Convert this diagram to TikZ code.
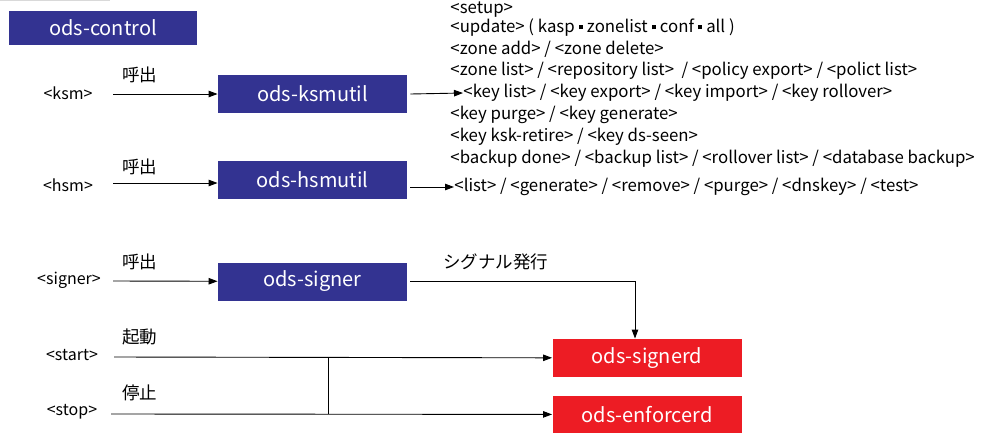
\documentclass[tikz,border=0pt]{standalone}
\usepackage{fontspec}
\setmainfont{Noto Sans CJK JP}
\usetikzlibrary{arrows.meta}
\definecolor{odsblue}{RGB}{51,51,145}
\definecolor{odsred}{RGB}{237,28,36}
\newcommand{\sqdot}{\rule[0.22em]{0.28em}{0.28em}}
\tikzset{
  cmdbox/.style={fill=odsblue, text=white, minimum width=189pt, minimum height=38pt, inner sep=0pt, font=\fontsize{20}{20}\selectfont},
  daemonbox/.style={cmdbox, fill=odsred},
  lbl/.style={font=\fontsize{16}{16}\selectfont, inner sep=0pt},
  jlbl/.style={font=\fontsize{17.5}{17.5}\selectfont, inner sep=0pt, anchor=west},
  cmdline/.style={font=\fontsize{16.8}{16.8}\selectfont, inner sep=0pt, anchor=west},
  arr/.style={-{Triangle[length=9pt,width=6.5pt]}},
}
\begin{document}
\begin{tikzpicture}[x=1pt,y=-1pt,line width=0.9pt]
				\useasboundingbox (0,0) rectangle (985,432);
				\draw[gray!30, line width=1.5pt] (0,0.5) -- (110,0.5);
				\node[cmdbox, minimum width=188pt, minimum height=34pt] (ctrl) at (103,28) {ods-control};
				% commands
				\node[cmdbox] (ksmutil) at (312.5,94) {ods-ksmutil};
				\node[cmdbox] (hsmutil) at (312.5,180) {ods-hsmutil};
				\node[cmdbox] (signer) at (312.5,281.5) {ods-signer};
				\node[daemonbox] (signerd) at (647,358) {ods-signerd};
				\node[daemonbox] (enforcerd) at (647,414.5) {ods-enforcerd};
				% callers
				\node[lbl] (ksm) at (68,93) {<ksm>};
				\node[lbl] (hsm) at (68,185) {<hsm>};
				\node[lbl] (sgn) at (69,280) {<signer>};
				\node[lbl] (start) at (72,355) {<start>};
				\node[lbl] (stop) at (72,412) {<stop>};
				\coordinate (ksm-out) at (113,94);
				\coordinate (hsm-out) at (113,183);
				\coordinate (sgn-out) at (113,281);
				\coordinate (start-out) at (114,357);
				\coordinate (stop-out) at (111,414);
				\node[jlbl] (call1) at (122,75) {呼出};
				\node[jlbl] (call2) at (122,167) {呼出};
				\node[jlbl] (call3) at (122,262) {呼出};
				\node[jlbl] (boot) at (122,337) {起動};
				\node[jlbl] (halt) at (122,393) {停止};
				\node[jlbl] (sig) at (443,262) {シグナル発行};
				\draw[arr] (ksm-out) -- (ksmutil);
				\draw[arr] (hsm-out) -- (hsm-out -| hsmutil.west);
				\draw[arr] (sgn-out) -- (signer);
				\draw[arr] (start-out) -- (signerd);
				\draw[arr] (stop-out) -- (enforcerd);
				\draw (start-out -| 328,0) -- (stop-out -| 328,0);
				\draw[arr] ([xshift=3pt]signer.east) -| ([xshift=-12pt]signerd.north);
				% ksmutil subcommands
				\node[cmdline] (setup) at (450,9.5) {<setup>};
				\node[cmdline] (update) at (450,28) {<update> ( kasp \sqdot{} zonelist \sqdot{} conf \sqdot{} all )};
				\node[cmdline] (zoneadd) at (450,49.5) {<zone add> / <zone delete>};
				\node[cmdline] (zonelist) at (450,71) {<zone list> / <repository list> \ / <policy export> / <polict list>};
				\node[cmdline] (keylist) at (463,93) {<key list> / <key export> / <key import> / <key rollover>};
				\node[cmdline] (keypurge) at (450,115) {<key purge> / <key generate>};
				\node[cmdline] (keyretire) at (450,137) {<key ksk-retire> / <key ds-seen>};
				\node[cmdline] (backup) at (450,159) {<backup done> / <backup list> / <rollover list> / <database backup>};
				\node[cmdline] (hsmcmds) at (454,187) {<list> / <generate> / <remove> / <purge> / <dnskey> / <test>};
				\draw[arr] ([xshift=3pt]ksmutil.east) -- (keylist.west);
				\draw[arr] ([xshift=3pt]hsmutil.east |- hsmcmds) -- (hsmcmds.west);
			\end{tikzpicture}
\end{document}
